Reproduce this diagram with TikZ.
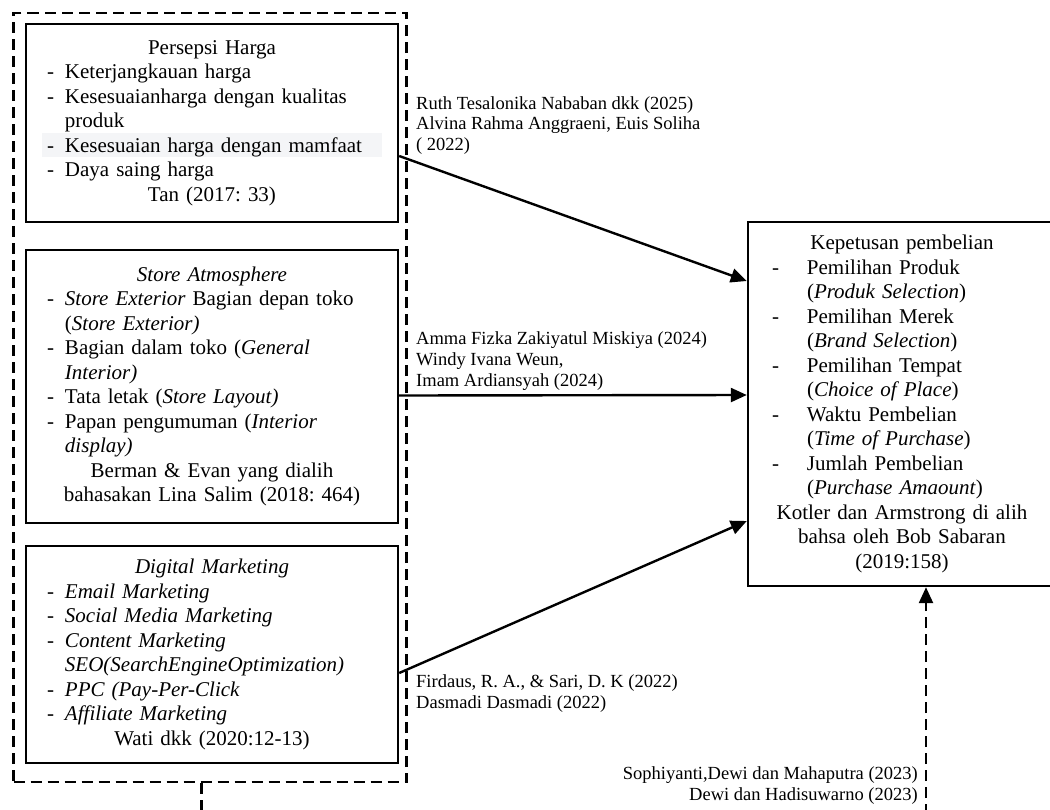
\documentclass[tikz,border=0pt]{standalone}
\usepackage{fontspec}
\setmainfont{Liberation Serif}
\usetikzlibrary{arrows.meta}
\frenchspacing
\newcommand\bxfont{\fontsize{21}{24.5}\selectfont}
\newcommand\lbfont{\fontsize{18.5}{20.8}\selectfont}
\newcommand\ctrln[1]{{\centering #1\par}}
\newcommand\itmln[1]{{\raggedright\noindent\hspace*{21pt}\makebox[18pt][l]{-}#1\par}}
\newcommand\cntln[1]{{\raggedright\noindent\hspace*{39pt}#1\par}}
\newcommand\ritm[1]{{\raggedright\noindent\hspace*{24pt}\makebox[35pt][l]{-}#1\par}}
\newcommand\rcnt[1]{{\raggedright\noindent\hspace*{59pt}#1\par}}
\tikzset{
  box/.style={draw=black, line width=2.4pt, rectangle, inner sep=0pt, font=\bxfont},
  grpbox/.style={draw=black, line width=2.4pt, dash pattern=on 11pt off 6pt, rectangle, inner sep=0pt},
  lbl/.style={inner sep=0pt, font=\lbfont},
  arr/.style={line width=2.4pt, -{Triangle[length=16pt,width=14pt]}},
  darr/.style={line width=2.4pt, dash pattern=on 11pt off 6pt, -{Triangle[length=16pt,width=14pt]}},
  dln/.style={line width=2.4pt, dash pattern=on 11pt off 6pt}
}
\begin{document}
\begin{tikzpicture}[x=1pt,y=-1pt]
\useasboundingbox (0,0) rectangle (1050,809);
\clip (0,0) rectangle (1050,809);
\fill[white] (0,0) rectangle (1050,809);
% highlight behind one line
\fill[color={rgb,255:red,244;green,245;blue,247}] (42,133) rectangle (382,157);
% outer dashed group
\node[grpbox, minimum width=393pt, minimum height=769pt] (grp) at (210,397.5) {};
% box 1
\node[box, text width=372pt, minimum height=198pt] (b1) at (212,123) {%
\ctrln{Persepsi Harga}
\itmln{Keterjangkauan harga}
\itmln{Kesesuaianharga dengan kualitas}
\cntln{produk}
\itmln{Kesesuaian harga dengan mamfaat}
\itmln{Daya saing harga}
\ctrln{Tan (2017: 33)}};
% box 2
\node[box, text width=372pt, minimum height=273pt] (b2) at (212,386.5) {%
\ctrln{\textit{Store Atmosphere}}
\itmln{\textit{Store Exterior} Bagian depan toko}
\cntln{(\textit{Store Exterior)}}
\itmln{Bagian dalam toko (\textit{General}}
\cntln{\textit{Interior)}}
\itmln{Tata letak (\textit{Store Layout)}}
\itmln{Papan pengumuman (\textit{Interior}}
\cntln{\textit{display)}}
\ctrln{Berman \& Evan yang dialih}
\ctrln{bahasakan Lina Salim (2018: 464)}};
% box 3
\node[box, text width=372pt, minimum height=217pt] (b3) at (212,654.5) {%
\ctrln{\textit{Digital Marketing}}
\itmln{\textit{Email Marketing}}
\itmln{\textit{Social Media Marketing}}
\itmln{\textit{Content Marketing}}
\cntln{\textit{SEO(SearchEngineOptimization)}}
\itmln{\textit{PPC (Pay-Per-Click}}
\itmln{\textit{Affiliate Marketing}}
\ctrln{Wati dkk (2020:12-13)}};
% right box
\node[box, text width=308pt, minimum height=364pt] (r) at (902,404) {%
\ctrln{Kepetusan pembelian}
\ritm{Pemilihan Produk}
\rcnt{(\textit{Produk Selection})}
\ritm{Pemilihan Merek}
\rcnt{(\textit{Brand Selection})}
\ritm{Pemilihan Tempat}
\rcnt{(\textit{Choice of Place})}
\ritm{Waktu Pembelian}
\rcnt{(\textit{Time of Purchase})}
\ritm{Jumlah Pembelian}
\rcnt{(\textit{Purchase Amaount})}
\ctrln{Kotler dan Armstrong di alih}
\ctrln{bahsa oleh Bob Sabaran}
\ctrln{(2019:158)}};
% labels
\node[lbl, anchor=west, align=left] (l1) at (416,125.5) {Ruth Tesalonika Nababan dkk (2025)\\Alvina Rahma Anggraeni, Euis Soliha\\( 2022)};
\node[lbl, anchor=west, align=left] (l2) at (416,361) {Amma Fizka Zakiyatul Miskiya (2024)\\Windy Ivana Weun,\\Imam Ardiansyah (2024)};
\node[lbl, anchor=west, align=left] (l3) at (416,693.5) {Firdaus, R. A., \& Sari, D. K (2022)\\Dasmadi Dasmadi (2022)};
\node[lbl, anchor=east, align=right] (l4) at (918,785.5) {Sophiyanti,Dewi dan Mahaputra (2023)\\Dewi dan Hadisuwarno (2023)};
% connectors
\draw[arr] ([yshift=-33pt]b1.east) -- ([yshift=123pt]r.west);
\draw[arr] ([yshift=-9pt]b2.east) -- ([yshift=9pt]r.west);
\draw[arr] ([yshift=-18.5pt]b3.east) -- ([yshift=-117pt]r.west);
\coordinate (e1) at (201.5,815);
\coordinate (e2) at (926,815);
\draw[dln] ([xshift=-8.5pt]grp.south) -- (e1);
\draw[darr] (e2) -- ([xshift=24pt]r.south);
\end{tikzpicture}
\end{document}
